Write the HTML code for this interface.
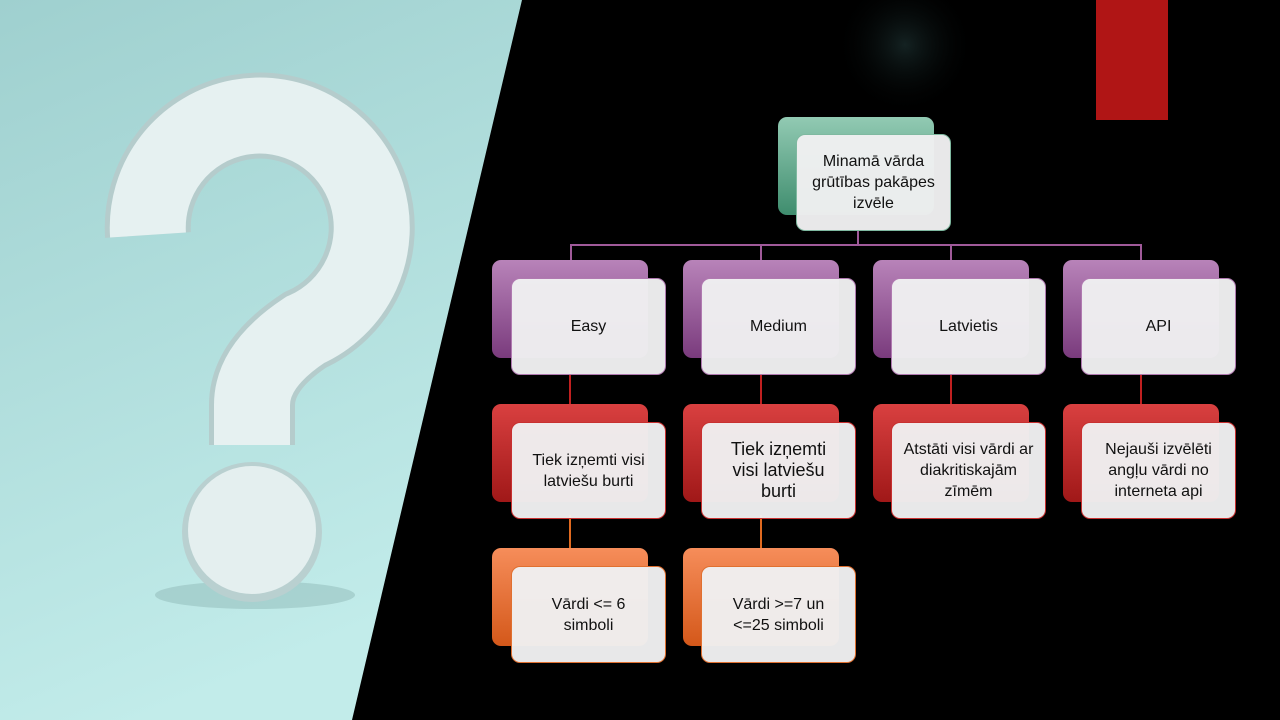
<!DOCTYPE html>
<html><head><meta charset="utf-8"><style>
body{margin:0;width:1280px;height:720px;overflow:hidden;background:#000;font-family:"Liberation Sans",sans-serif;position:relative}
.b{position:absolute;width:156px;height:98px;border-radius:9px}
.f{position:absolute;width:155px;height:97px;border-radius:9px;background:rgba(240,239,241,0.97);display:flex;align-items:center;justify-content:center;text-align:center;font-size:16px;line-height:21px;color:#111;box-sizing:border-box;padding:0 18px}
.l{position:absolute;background:#a05a9a}
</style></head><body>
<svg width="1280" height="720" style="position:absolute;left:0;top:0">
<defs><linearGradient id="bg" x1="0" y1="0" x2="0.3" y2="1"><stop offset="0" stop-color="#9fd0cf"/><stop offset="1" stop-color="#c2ecea"/></linearGradient>
<radialGradient id="gl" cx="0.5" cy="0.5" r="0.5"><stop offset="0" stop-color="#142222"/><stop offset="1" stop-color="#000" stop-opacity="0"/></radialGradient></defs>
<circle cx="905" cy="45" r="70" fill="url(#gl)"/>
<polygon points="0,0 522,0 352,720 0,720" fill="url(#bg)"/>
<ellipse cx="255" cy="595" rx="100" ry="14" fill="#8fb9b8" opacity="0.5"/>
<path d="M 148 235 A 112 112 0 1 1 305 330 Q 252 365 252 405 L 252 445" fill="none" stroke="#b5cccc" stroke-width="86"/>
<path d="M 148 235 A 112 112 0 1 1 305 330 Q 252 365 252 405 L 252 445" fill="none" stroke="#e6f1f1" stroke-width="76"/>
<circle cx="252" cy="532" r="70" fill="#b9d0d0"/>
<circle cx="252" cy="530" r="64" fill="#e4efef"/>
<rect x="1096" y="0" width="72" height="120" fill="#b01515"/>
</svg>
<div class="l" style="left:857px;top:231px;width:2px;height:15px"></div>
<div class="l" style="left:570px;top:244px;width:572px;height:2px"></div>
<div class="l" style="left:570px;top:244px;width:2px;height:17px"></div>
<div class="l" style="left:760px;top:244px;width:2px;height:17px"></div>
<div class="l" style="left:950px;top:244px;width:2px;height:17px"></div>
<div class="l" style="left:1140px;top:244px;width:2px;height:17px"></div>
<div class="l" style="left:569px;top:370px;width:2px;height:36px;background:#c02020"></div>
<div class="l" style="left:760px;top:370px;width:2px;height:36px;background:#c02020"></div>
<div class="l" style="left:950px;top:370px;width:2px;height:36px;background:#c02020"></div>
<div class="l" style="left:1140px;top:370px;width:2px;height:36px;background:#c02020"></div>
<div class="l" style="left:569px;top:515px;width:2px;height:35px;background:#e06a20"></div>
<div class="l" style="left:760px;top:515px;width:2px;height:35px;background:#e06a20"></div>

<div class="b" style="left:778px;top:117px;background:linear-gradient(#92cab3,#3f8d6e)"></div>
<div class="f" style="left:796px;top:134px;border:1px solid #7fb9a0;padding:0 12px">Minamā vārda grūtības pakāpes izvēle</div>

<div class="b" style="left:492px;top:260px;background:linear-gradient(#b883b9,#7a3b7d)"></div>
<div class="f" style="left:511px;top:278px;border:1px solid #b07ab0">Easy</div>
<div class="b" style="left:683px;top:260px;background:linear-gradient(#b883b9,#7a3b7d)"></div>
<div class="f" style="left:701px;top:278px;border:1px solid #b07ab0">Medium</div>
<div class="b" style="left:873px;top:260px;background:linear-gradient(#b883b9,#7a3b7d)"></div>
<div class="f" style="left:891px;top:278px;border:1px solid #b07ab0">Latvietis</div>
<div class="b" style="left:1063px;top:260px;background:linear-gradient(#b883b9,#7a3b7d)"></div>
<div class="f" style="left:1081px;top:278px;border:1px solid #b07ab0">API</div>

<div class="b" style="left:492px;top:404px;background:linear-gradient(#d94040,#a01818)"></div>
<div class="f" style="left:511px;top:422px;border:1px solid #c83030;padding:0 10px">Tiek izņemti visi latviešu burti</div>
<div class="b" style="left:683px;top:404px;background:linear-gradient(#d94040,#a01818)"></div>
<div class="f" style="left:701px;top:422px;border:1px solid #c83030;font-size:18px;padding:0 24px">Tiek izņemti visi latviešu burti</div>
<div class="b" style="left:873px;top:404px;background:linear-gradient(#d94040,#a01818)"></div>
<div class="f" style="left:891px;top:422px;border:1px solid #c83030;padding:0 10px">Atstāti visi vārdi ar diakritiskajām zīmēm</div>
<div class="b" style="left:1063px;top:404px;background:linear-gradient(#d94040,#a01818)"></div>
<div class="f" style="left:1081px;top:422px;border:1px solid #c83030;padding:0 12px">Nejauši izvēlēti angļu vārdi no interneta api</div>

<div class="b" style="left:492px;top:548px;background:linear-gradient(#f68d5a,#d4581a)"></div>
<div class="f" style="left:511px;top:566px;border:1px solid #e07030;padding:0 28px">Vārdi &lt;= 6 simboli</div>
<div class="b" style="left:683px;top:548px;background:linear-gradient(#f68d5a,#d4581a)"></div>
<div class="f" style="left:701px;top:566px;border:1px solid #e07030;padding:0 20px">Vārdi &gt;=7 un &lt;=25 simboli</div>
</body></html>
